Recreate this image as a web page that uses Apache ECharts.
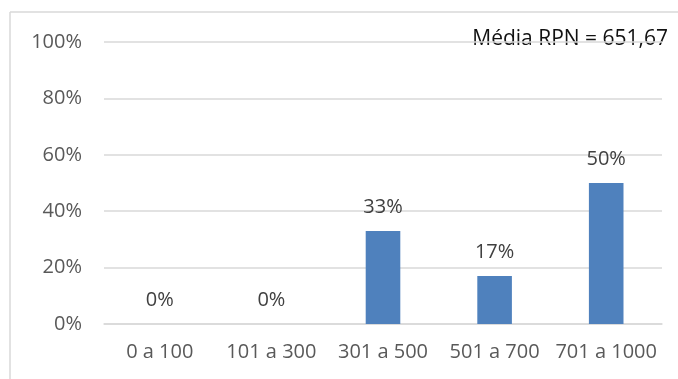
<!DOCTYPE html>
<html>
<head>
<meta charset="utf-8">
<script src="https://cdn.jsdelivr.net/npm/echarts@6/dist/echarts.min.js"></script>
<style>
  html, body { margin: 0; padding: 0; background: #fff; }
  #chart { width: 678px; height: 379px; }
</style>
</head>
<body>
<div id="chart"></div>
<script>
// RPN ranges and share of items in each range (percent)
const categories = ['0 a 100', '101 a 300', '301 a 500', '501 a 700', '701 a 1000'];
const shares = [0, 0, 33, 17, 50];
const yTicks = [0, 20, 40, 60, 80, 100];
const noteText = 'Média RPN = 651,67';

const FONT = '"Open Sans", sans-serif';

const chart = echarts.init(document.getElementById('chart'), null, { renderer: 'canvas' });

chart.setOption({
  animation: false,
  backgroundColor: '#ffffff',
  grid: { left: 104, right: 16, top: 42, bottom: 55, containLabel: false },
  xAxis: {
    type: 'category',
    data: categories,
    axisLine: { show: true, lineStyle: { color: '#d9d9d9', width: 1.5 } },
    axisTick: { show: false },
    axisLabel: { color: '#595959', fontFamily: FONT, fontSize: 20, margin: 18, interval: 0 }
  },
  yAxis: {
    type: 'value',
    min: yTicks[0],
    max: yTicks[yTicks.length - 1],
    interval: yTicks[1] - yTicks[0],
    axisLine: { show: false },
    axisTick: { show: false },
    splitLine: { lineStyle: { color: '#d9d9d9', width: 1.5 } },
    axisLabel: { color: '#595959', fontFamily: FONT, fontSize: 20, margin: 22, formatter: v => v + '%' }
  },
  series: [{
    type: 'bar',
    data: shares,
    barWidth: '31%',
    itemStyle: { color: '#4f81bd' },
    label: {
      show: true,
      position: 'top',
      distance: 14,
      color: '#404040',
      fontFamily: FONT,
      fontSize: 20,
      lineHeight: 20,
      formatter: p => p.value + '%'
    }
  }],
  graphic: [
    { type: 'line', shape: { x1: 10, y1: 12, x2: 678, y2: 12 }, style: { stroke: '#d9d9d9', lineWidth: 1.5 } },
    { type: 'line', shape: { x1: 10, y1: 12, x2: 10, y2: 379 }, style: { stroke: '#d9d9d9', lineWidth: 1.5 } },
    {
      type: 'text', right: 10, top: 29,
      style: { text: noteText, fill: '#111111', font: '21px ' + FONT }
    }
  ]
});
</script>
</body>
</html>
